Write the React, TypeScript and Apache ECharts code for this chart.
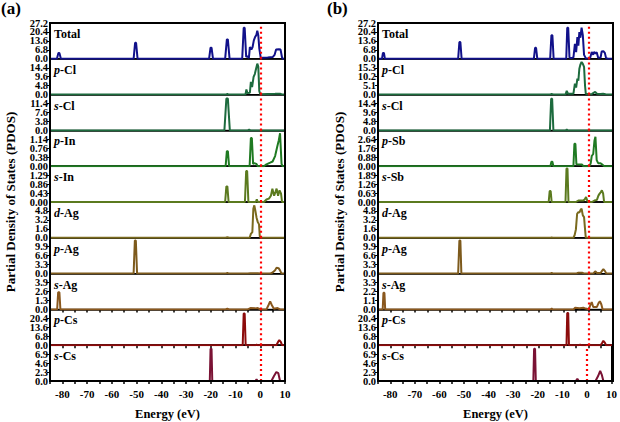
import React, { useEffect, useRef } from "react";
import * as echarts from "echarts";

// ---------- axis settings ----------
const X_MIN = -85;
const X_MAX = 10;
const X_INTERVAL = 5;

// ---------- panel (a) ----------
const aNames = ["Total", "p-Cl", "s-Cl", "p-In", "s-In", "d-Ag", "p-Ag", "s-Ag", "p-Cs", "s-Cs"];
const aYMax = [27.2, 19.2, 15.2, 1.52, 1.72, 6.4, 13.2, 5.2, 27.2, 9.2];
const aDigits = [1, 1, 1, 2, 2, 1, 1, 1, 1, 1];

const aTotal = [[-85,0],[-82.2,0],[-81.6,4.5],[-81.2,4.5],[-80.6,0],[-51.2,0],[-50.6,12.2],[-50.2,12.2],[-49.6,0],[-20.7,0],[-20.1,8.4],[-19.7,8.4],[-19.1,0],[-14.2,0],[-13.5,14.7],[-13.1,14.7],[-12.4,0],[-7.3,0],[-6.7,23.6],[-6.3,23.6],[-5.7,1.5],[-5.2,2],[-4.6,0.5],[-4.2,8.9],[-3.6,7],[-3.1,9],[-2.6,14],[-2.1,16.5],[-1.6,18],[-1.2,21.3],[-0.8,18],[-0.4,8],[0.2,0.5],[1,0.8],[3,1.0],[5,1.3],[5.8,3],[6.4,7.1],[7.5,7.3],[8.2,7.0],[8.8,1],[9.2,0],[10,0]];
const aPCl = [[-85,0],[-14,0],[-13.3,0.3],[-12.6,0],[-6,0],[-5.6,2.7],[-5.2,0.8],[-4.2,1],[-3.8,6.8],[-3.3,4],[-2.7,9.5],[-2.2,11],[-1.7,13.9],[-1.2,16.6],[-0.8,15],[-0.4,2],[0,0.2],[3,0.3],[6,0.4],[8,0.5],[9,0],[10,0]];
const aSCl = [[-85,0],[-14.5,0],[-13.7,13.5],[-13.1,13.5],[-12.3,0],[-5,0],[-4.5,0.3],[-4,0],[10,0]];
const aPIn = [[-85,0],[-14,0],[-13.5,0.64],[-13.1,0.64],[-12.6,0],[-4.3,0],[-3.8,1.2],[-3.4,1.2],[-2.9,0.1],[-2.4,0.13],[-1.6,0.1],[-1,0],[1.5,0],[2.5,0.08],[4,0.15],[5,0.2],[6,0.43],[6.9,0.85],[7.5,1.1],[8,1.4],[8.6,0.1],[9,0],[10,0]];
const aSIn = [[-85,0],[-14.2,0],[-13.7,0.75],[-13.3,0.75],[-12.8,0],[-6.2,0],[-5.7,1.49],[-5.3,1.49],[-4.8,0],[-1.8,0],[-1.4,0.13],[-1,0],[1.5,0],[2.5,0.12],[3.5,0.16],[4.3,0.3],[4.9,0.64],[5.6,0.3],[6.2,0.5],[6.6,0.64],[7.2,0.3],[7.8,0.56],[8.4,0.4],[8.8,0],[10,0]];
const aDAg = [[-85,0],[-14,0],[-13.3,0.1],[-12.6,0],[-4.3,0],[-3.8,0.7],[-3.2,1],[-2.8,5.2],[-2.4,5.8],[-2,4.9],[-1.5,3.6],[-1,2.8],[-0.5,2.4],[-0.2,0.3],[0.2,0],[10,0]];
const aPAg = [[-85,0],[-51.2,0],[-50.7,12.2],[-50.3,12.2],[-49.8,0],[-14,0],[-13.3,0.25],[-12.6,0],[-5,0],[-4,0.15],[-1,0.15],[0,0],[4,0],[5,0.4],[6,1.2],[6.6,2.2],[7.4,2.0],[8,1.2],[8.6,0],[10,0]];
const aSAg = [[-85,0],[-82.1,0],[-81.7,2.5],[-81.2,2.5],[-80.8,0],[-14,0],[-13.3,0.1],[-12.6,0],[-5,0],[-4,0.2],[-2,0.15],[-1,0.2],[0,0],[2.5,0],[3.3,0.6],[4,1.16],[4.7,0.6],[5.5,0.1],[7,0.2],[8,0],[10,0]];
const aPCs = [[-85,0],[-7.1,0],[-6.7,24.1],[-6.3,24.1],[-5.9,0],[-2,0],[-1.5,0.3],[-1,0],[6.5,0],[7.2,2.5],[7.7,3.8],[8.3,2.5],[8.8,0],[10,0]];
const aSCs = [[-85,0],[-20.4,0],[-20.1,8.3],[-19.7,8.3],[-19.4,0],[-2,0],[-1.5,0.4],[-1,0],[4.5,0],[5.5,1.2],[6.5,2.3],[7.3,2.0],[8,0],[10,0]];

// ---------- panel (b) ----------
const bNames = ["Total", "p-Cl", "s-Cl", "p-Sb", "s-Sb", "d-Ag", "p-Ag", "s-Ag", "p-Cs", "s-Cs"];
const bYMax = [27.2, 20.4, 19.2, 3.52, 2.52, 6.4, 13.2, 4.4, 27.2, 9.2];
const bDigits = [1, 1, 1, 2, 2, 1, 1, 1, 1, 1];

const bTotal = [[-85,0],[-83.4,0],[-83,4.5],[-82.6,4.5],[-82.2,0],[-52.6,0],[-52.1,12.7],[-51.7,12.7],[-51.2,0],[-22,0],[-21.5,8.4],[-21.1,8.4],[-20.6,0],[-15.4,0],[-14.9,17.8],[-14.5,17.8],[-14,0],[-8.9,0],[-8.5,23.6],[-8.1,23.6],[-7.6,1],[-7,0.5],[-6,1],[-5.4,11.4],[-4.9,5],[-4.4,16.5],[-4,10],[-3.6,20.3],[-3.2,16],[-2.7,23.6],[-2.2,18],[-1.7,3],[-1,0.5],[0,0.3],[0.8,1],[1.4,5.1],[2,3],[2.3,5.1],[3,4],[3.4,5],[4,0.8],[5,1],[5.4,5.5],[6.1,5.8],[6.7,4.5],[7.2,0.5],[8,0],[10,0]];
const bPCl = [[-85,0],[-15.4,0],[-14.8,0.4],[-14.2,0],[-9.2,0],[-8.7,2.1],[-8.2,0.5],[-6,0.5],[-5.4,6.3],[-4.9,4],[-4.4,9.1],[-4,8],[-3.6,14.8],[-3.2,17],[-2.7,18.6],[-2.2,17.5],[-1.7,15.8],[-1.3,5],[-1,0.5],[0,0.2],[1.5,0.4],[2.8,1.5],[3.5,0.5],[5,0.3],[6,0.5],[7,0.2],[8,0],[10,0]];
const bSCl = [[-85,0],[-15.5,0],[-15,17],[-14.6,17],[-14.1,0],[-9,0],[-8.7,0.5],[-8.3,0],[10,0]];
const bPSb = [[-85,0],[-15.3,0],[-14.9,0.43],[-14.5,0.43],[-14.1,0],[-6,0],[-5.6,2.2],[-5.2,2.2],[-4.8,0.2],[-3.5,0.16],[-2.5,0.16],[-2,0],[0.5,0],[1,0.3],[1.4,1.0],[2,1.2],[2.5,2.5],[2.9,2.9],[3.4,0.6],[4,0.3],[4.8,0.3],[5.5,0.2],[6.5,0],[10,0]];
const bSSb = [[-85,0],[-16,0],[-15.6,0.77],[-15.2,0.77],[-14.8,0],[-9.2,0],[-8.8,2.35],[-8.4,2.35],[-8,0],[-5,0],[-4,0.1],[-2,0.1],[-1.4,0.2],[-0.9,0.35],[-0.4,0.1],[0,0],[1.5,0],[2.5,0.1],[3.5,0.15],[4.1,0.45],[4.6,0.59],[5.1,0.7],[5.5,0.82],[6,0.6],[6.4,0],[10,0]];
const bDAg = [[-85,0],[-15,0],[-14.8,0.1],[-14.5,0],[-6,0],[-5.5,0.5],[-5,1.5],[-4.5,4.3],[-4,4.6],[-3.6,4.5],[-3.1,5],[-2.7,5.2],[-2.2,4],[-1.7,3.7],[-1.3,1.5],[-1,0],[10,0]];
const bPAg = [[-85,0],[-52.6,0],[-52.1,12.2],[-51.7,12.2],[-51.3,0],[-15.3,0],[-14.8,0.3],[-14.3,0],[-5,0],[-4,0.3],[-2.5,0.3],[-1.5,0],[2,0],[2.8,0.85],[3.5,0.2],[5,0.2],[5.7,1.2],[6.1,1.6],[6.7,1.0],[7.3,0],[10,0]];
const bSAg = [[-85,0],[-83.1,0],[-82.8,2.05],[-82.4,2.05],[-82.1,0],[-15.2,0],[-14.8,0.1],[-14.4,0],[-6,0],[-5.3,0.2],[-3.5,0.15],[-2,0.2],[-1,0.1],[0.2,0],[0.8,0.5],[1.4,0.9],[2,0.3],[3.5,0.3],[4.2,0.8],[4.7,1.0],[5.3,0.6],[5.8,0],[10,0]];
const bPCs = [[-85,0],[-8.8,0],[-8.5,24.5],[-8.1,24.5],[-7.8,0],[-4,0],[-3.3,0.3],[-2.5,0],[5,0],[5.7,2],[6.1,3.3],[6.7,2],[7.2,0],[10,0]];
const bSCs = [[-85,0],[-21.8,0],[-21.5,8.3],[-21.1,8.3],[-20.8,0],[-4.5,0],[-3.9,0.6],[-3.3,0],[3.5,0],[4.5,1.2],[5.4,2.6],[6.1,1.5],[6.7,0],[10,0]];

const colors = ["#11118a", "#1d6b3e", "#1d6b3e", "#1f7a22", "#5b7a1f", "#7a6a1e", "#7d5a1c", "#8a581e", "#8c0b0b", "#7a1234"];

const aData = [aTotal, aPCl, aSCl, aPIn, aSIn, aDAg, aPAg, aSAg, aPCs, aSCs];
const bData = [bTotal, bPCl, bSCl, bPSb, bSSb, bDAg, bPAg, bSAg, bPCs, bSCs];

const FONT = "'Liberation Serif', 'Times New Roman', serif";

function buildOption() {
  const panels = [
    { tag: "(a)", tagX: 1, left: 50, names: aNames, yMax: aYMax, digits: aDigits, data: aData, nameX: 10 },
    { tag: "(b)", tagX: 327, left: 378, names: bNames, yMax: bYMax, digits: bDigits, data: bData, nameX: 339 },
  ];
  const TOP = 23;
  const SUB_H = 35.8;
  const W = 235;
  const grid: any[] = [];
  const xAxis: any[] = [];
  const yAxis: any[] = [];
  const series: any[] = [];
  const graphic: any[] = [];
  const labelBase = { color: "#000", fontFamily: FONT, fontWeight: "bold", fontSize: 10.5, margin: 2 };

  panels.forEach((p) => {
    const n = p.names.length;
    p.names.forEach((name, i) => {
      const gi = grid.length;
      const top = TOP + i * SUB_H;
      const last = i === n - 1;
      const max = p.yMax[i];
      const digits = p.digits[i];
      grid.push({ left: p.left, top, width: W, height: SUB_H, show: true, borderColor: "#000", borderWidth: 1 });
      xAxis.push({
        type: "value", gridIndex: gi, min: X_MIN, max: X_MAX, interval: X_INTERVAL,
        axisLine: { show: true, onZero: false, lineStyle: { color: "#000", width: 1.5 } },
        axisTick: { show: i >= 7, inside: false, length: 3, lineStyle: { color: "#000", width: 1.5 } },
        axisLabel: {
          show: last, color: "#000", fontFamily: FONT, fontWeight: "bold", fontSize: 11, margin: 7,
          formatter: (v: number) => (Math.round(v) % 10 === 0 ? String(Math.round(v)) : ""),
        },
        splitLine: { show: false },
      });
      // main y axis: inner tick labels (max/4, max/2, 3max/4)
      const yi = yAxis.length;
      yAxis.push({
        type: "value", gridIndex: gi, position: "left", min: 0, max, interval: max / 4,
        axisLine: { show: true, onZero: false, lineStyle: { color: "#000", width: 2 } },
        axisTick: { show: true, inside: false, length: 3, lineStyle: { color: "#000", width: 1 } },
        axisLabel: {
          ...labelBase, showMinLabel: false, showMaxLabel: false,
          formatter: (v: number) => v.toFixed(digits),
        },
        splitLine: { show: false },
      });
      // companion y axis: 0 label (and max label for Total)
      yAxis.push({
        type: "value", gridIndex: gi, position: "left", offset: 0, min: 0, max, interval: max,
        axisLine: { show: false }, axisTick: { show: false },
        axisLabel: {
          ...labelBase, showMinLabel: true, showMaxLabel: true,
          formatter: (v: number) => (v > 0 && i > 0 ? "" : v.toFixed(digits)),
        },
        splitLine: { show: false },
      });
      series.push({
        type: "line", name, xAxisIndex: gi, yAxisIndex: yi, data: p.data[i],
        symbol: "none", showSymbol: false, z: 3,
        lineStyle: { color: colors[i], width: 2 }, itemStyle: { color: colors[i] },
        markLine: {
          silent: true, symbol: ["none", "none"], label: { show: false },
          lineStyle: { color: "#ff0000", type: [2, 3], width: 2.2 },
          data: [{ xAxis: 0 }],
        },
      });
      const parts = name.split("-");
      const txt = parts.length > 1 ? `{i|${parts[0]}}{n|-${parts.slice(1).join("-")}}` : `{n|${name}}`;
      graphic.push({
        type: "text", x: p.left + 4, y: top + 11, z: 10,
        style: {
          text: txt, textAlign: "left", textVerticalAlign: "middle", verticalAlign: "middle",
          rich: {
            i: { fontStyle: "italic", fontWeight: "bold", fontFamily: FONT, fontSize: 12, fill: "#000" },
            n: { fontWeight: "bold", fontFamily: FONT, fontSize: 12, fill: "#000" },
          },
        },
      });
    });
    // outer frame
    graphic.push({
      type: "rect", shape: { x: p.left, y: TOP, width: W, height: SUB_H * n }, z: 20, silent: true,
      style: { fill: "none", stroke: "#000", lineWidth: 2 },
    });
    graphic.push({
      type: "text", x: p.tagX, y: 0, z: 10,
      style: { text: p.tag, fontFamily: FONT, fontWeight: "bold", fontSize: 17, fill: "#000", textAlign: "left", textVerticalAlign: "top" },
    });
    graphic.push({
      type: "text", x: p.left + W / 2, y: 414, z: 10,
      style: { text: "Energy (eV)", fontFamily: FONT, fontWeight: "bold", fontSize: 12.5, fill: "#000", textAlign: "center", textVerticalAlign: "middle", verticalAlign: "middle" },
    });
    graphic.push({
      type: "text", x: p.nameX, y: TOP + (SUB_H * n) / 2, rotation: Math.PI / 2, z: 10,
      style: { text: "Partial Density of States (PDOS)", fontFamily: FONT, fontWeight: "bold", fontSize: 13, fill: "#000", textAlign: "center", textVerticalAlign: "middle", verticalAlign: "middle" },
    });
  });

  return { animation: false, backgroundColor: "#fff", grid, xAxis, yAxis, series, graphic };
}

export default function App() {
  const ref = useRef<HTMLDivElement>(null);
  useEffect(() => {
    if (!ref.current) return;
    const chart = echarts.init(ref.current, undefined, { renderer: "svg" });
    chart.setOption(buildOption() as any);
    return () => chart.dispose();
  }, []);
  return <div ref={ref} style={{ position: "fixed", left: 0, top: 0, width: 620, height: 422, background: "#fff" }} />;
}
